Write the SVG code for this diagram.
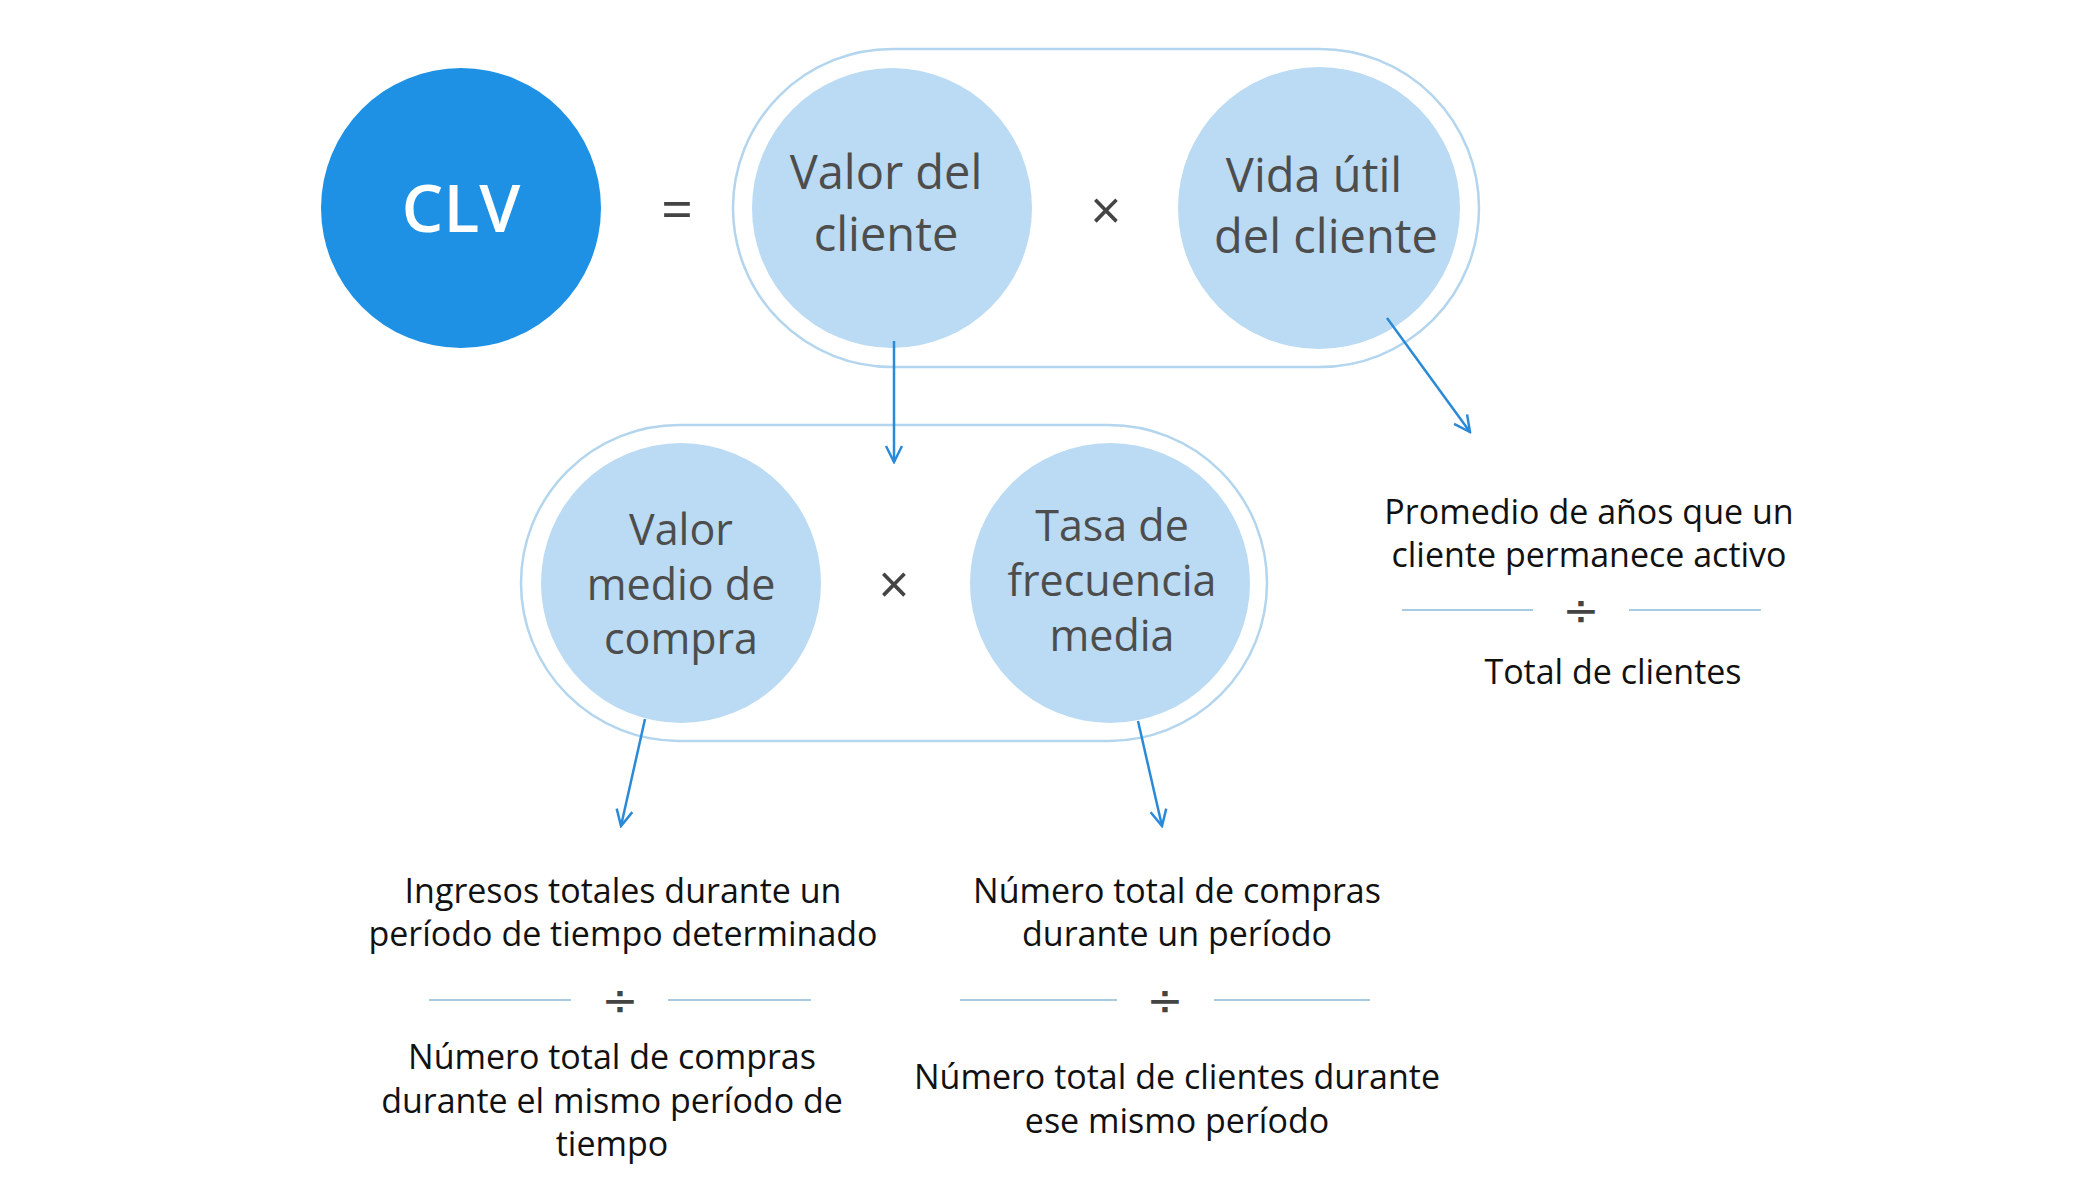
<svg xmlns="http://www.w3.org/2000/svg" width="2095" height="1179" viewBox="0 0 2095 1179">
<defs>
<style>
.pill{fill:#ffffff;stroke:#b3d5ee;stroke-width:2.5}
.lc{fill:#badbf3}
.ct{font-family:"Open Sans","Liberation Sans",sans-serif;fill:#4d4d4d;text-anchor:middle}
.bt{font-family:"Open Sans","Liberation Sans",sans-serif;fill:#111111;font-size:34px;text-anchor:middle}
.op{font-family:"Open Sans","Liberation Sans",sans-serif;fill:#444444;text-anchor:middle}
.dv{font-family:"DejaVu Sans","Liberation Sans",sans-serif;fill:#444444;text-anchor:middle;font-size:44px}
.dl{stroke:#a8cbe2;stroke-width:2}
.ar{stroke:#2a8ad8;stroke-width:2.5;fill:none;marker-end:url(#ah)}
</style>
<marker id="ah" viewBox="0 0 20 20" refX="18" refY="10" markerWidth="20" markerHeight="20" markerUnits="userSpaceOnUse" orient="auto">
<path d="M2,2 L18,10 L2,18" fill="none" stroke="#2a8ad8" stroke-width="2.5"/>
</marker>
</defs>
<rect width="2095" height="1179" fill="#ffffff"/>

<g id="clv">
<circle cx="461" cy="208" r="140" fill="#1e91e4"/>
<text x="461" y="232" class="ct" style="fill:#ffffff;font-size:66px;font-weight:600">CLV</text>
</g>
<g id="equals">
<text x="677" y="229" class="op" style="font-size:56px">=</text>
</g>

<g id="pill-top">
<rect x="733" y="49" width="746" height="318" rx="159" class="pill"/>
</g>
<g id="valor-cliente">
<circle cx="892" cy="208" r="140" class="lc"/>
<text x="886" y="189" class="ct" style="font-size:47px">Valor del</text>
<text x="886" y="251" class="ct" style="font-size:47px">cliente</text>
</g>
<g id="times-top">
<text x="1106" y="230" class="op" style="font-size:54px">×</text>
</g>
<g id="vida-util">
<circle cx="1319" cy="208" r="141" class="lc"/>
<text x="1314" y="192" class="ct" style="font-size:47px">Vida útil</text>
<text x="1326" y="253" class="ct" style="font-size:47px">del cliente</text>
</g>

<g id="pill-bottom">
<rect x="521" y="425" width="746" height="316" rx="158" class="pill"/>
</g>
<g id="valor-medio">
<circle cx="681" cy="583" r="140" class="lc"/>
<text x="681" y="545" class="ct" style="font-size:43px">Valor</text>
<text x="681" y="600" class="ct" style="font-size:43px">medio de</text>
<text x="681" y="654" class="ct" style="font-size:43px">compra</text>
</g>
<g id="times-bottom">
<text x="894" y="604" class="op" style="font-size:54px">×</text>
</g>
<g id="tasa-frecuencia">
<circle cx="1110" cy="583" r="140" class="lc"/>
<text x="1112" y="541" class="ct" style="font-size:43px">Tasa de</text>
<text x="1112" y="596" class="ct" style="font-size:43px">frecuencia</text>
<text x="1112" y="651" class="ct" style="font-size:43px">media</text>
</g>

<g id="formula-vida">
<text x="1589" y="524" class="bt">Promedio de años que un</text>
<text x="1589" y="567" class="bt">cliente permanece activo</text>
<line x1="1402" y1="610" x2="1533" y2="610" class="dl"/>
<line x1="1629" y1="610" x2="1761" y2="610" class="dl"/>
<text x="1581" y="625" class="dv">÷</text>
<text x="1613" y="684" class="bt">Total de clientes</text>
</g>

<g id="formula-valor-medio">
<text x="623" y="903" class="bt">Ingresos totales durante un</text>
<text x="623" y="946" class="bt">período de tiempo determinado</text>
<line x1="429" y1="1000" x2="571" y2="1000" class="dl"/>
<line x1="668" y1="1000" x2="811" y2="1000" class="dl"/>
<text x="620" y="1015" class="dv">÷</text>
<text x="612" y="1069" class="bt">Número total de compras</text>
<text x="612" y="1113" class="bt">durante el mismo período de</text>
<text x="612" y="1156" class="bt">tiempo</text>
</g>

<g id="formula-frecuencia">
<text x="1177" y="903" class="bt">Número total de compras</text>
<text x="1177" y="946" class="bt">durante un período</text>
<line x1="960" y1="1000" x2="1117" y2="1000" class="dl"/>
<line x1="1214" y1="1000" x2="1370" y2="1000" class="dl"/>
<text x="1165" y="1015" class="dv">÷</text>
<text x="1177" y="1089" class="bt">Número total de clientes durante</text>
<text x="1177" y="1133" class="bt">ese mismo período</text>
</g>

<g id="connectors">
<line x1="894" y1="341" x2="894" y2="462" class="ar"/>
<line x1="1387" y1="318" x2="1470" y2="432" class="ar"/>
<line x1="645" y1="719" x2="621" y2="826" class="ar"/>
<line x1="1138" y1="721" x2="1162" y2="826" class="ar"/>
</g>
</svg>
